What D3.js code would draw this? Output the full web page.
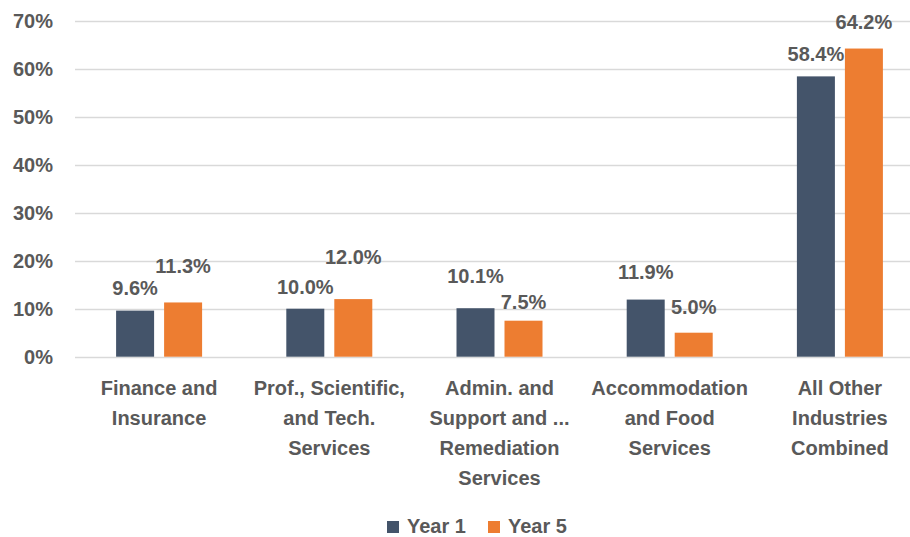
<!DOCTYPE html>
<html>
<head>
<meta charset="utf-8">
<script src="https://cdn.jsdelivr.net/npm/d3@7"></script>
<style>
  body { margin: 0; background: #fff; }
  text { font-family: "Liberation Sans", Arial, sans-serif; font-weight: bold; fill: #595959; }
</style>
</head>
<body>
<div id="chart"></div>
<script>
// data
var categories = ["Finance and\nInsurance", "Prof., Scientific,\nand Tech.\nServices", "Admin. and\nSupport and ...\nRemediation\nServices", "Accommodation\nand Food\nServices", "All Other\nIndustries\nCombined"];
var seriesNames = ["Year 1", "Year 5"];
var year1 = [9.6, 10.0, 10.1, 11.9, 58.4];
var year5 = [11.3, 12.0, 7.5, 5.0, 64.2];
var yTicks = [0, 10, 20, 30, 40, 50, 60, 70];
var colors = ["#44546A", "#ED7D31"];

// label lift above bar top (excel placed them staggered)
var liftY1 = [16, 15, 25, 21, 15];
var liftY5 = [29, 35, 12, 19, 20];

var w = 910, h = 537;
var padLeft = 74, padRight = 925, padTop = 20.7, padBottom = 356.7;
var fs = 20;

var svg = d3.select("#chart").append("svg").attr("width", w).attr("height", h);

var y = d3.scaleLinear().domain([0, 70]).range([padBottom, padTop]);
var x0 = d3.scaleBand().domain(d3.range(categories.length)).range([padLeft, padRight]);
var groupW = 86;
var x1 = d3.scaleBand().domain([0, 1]).range([0, groupW]).paddingInner(10 / 48);

//网格线
svg.selectAll(".grid").data(yTicks).enter().append("line")
  .attr("x1", 75).attr("x2", w).attr("y1", function(d){return Math.round(y(d)) + 0.5;}).attr("y2", function(d){return Math.round(y(d)) + 0.5;})
  .attr("stroke", "#D9D9D9").attr("stroke-width", 1.5);

//y轴刻度
svg.selectAll(".ytick").data(yTicks).enter().append("text")
  .attr("x", 53).attr("y", y).attr("dy", ".35em").attr("text-anchor", "end")
  .attr("font-size", fs).text(function(d){return d + "%";});

var series = [year1, year5];
var lifts = [liftY1, liftY5];
series.forEach(function(vals, s) {
  svg.selectAll(".bar" + s).data(vals).enter().append("rect")
    .attr("x", function(d, i){return x0(i) + (x0.bandwidth() - groupW) / 2 + x1(s);})
    .attr("y", function(d){return y(d);})
    .attr("width", x1.bandwidth())
    .attr("height", function(d){return y(0) - y(d);})
    .attr("fill", colors[s]);
  svg.selectAll(".lbl" + s).data(vals).enter().append("text")
    .attr("x", function(d, i){return x0(i) + (x0.bandwidth() - groupW) / 2 + x1(s) + x1.bandwidth() / 2;})
    .attr("y", function(d, i){return y(d) - lifts[s][i];})
    .attr("text-anchor", "middle").attr("font-size", fs)
    .text(function(d){return d.toFixed(1) + "%";});
});

//类别标签
categories.forEach(function(c, i) {
  var t = svg.append("text").attr("text-anchor", "middle").attr("font-size", fs)
    .attr("x", x0(i) + x0.bandwidth() / 2).attr("y", 395);
  c.split("\n").forEach(function(line, k) {
    t.append("tspan").attr("x", x0(i) + x0.bandwidth() / 2).attr("y", 395 + k * 30).text(line);
  });
});

//图例
var legend = svg.append("g").attr("transform", "translate(387,0)");
seriesNames.forEach(function(n, s) {
  var g = legend.append("g").attr("transform", "translate(" + (s * 101) + ",0)");
  g.append("rect").attr("x", 0).attr("y", 521).attr("width", 12).attr("height", 12).attr("fill", colors[s]);
  g.append("text").attr("x", 20).attr("y", 533).attr("font-size", fs).text(n);
});
</script>
</body>
</html>
